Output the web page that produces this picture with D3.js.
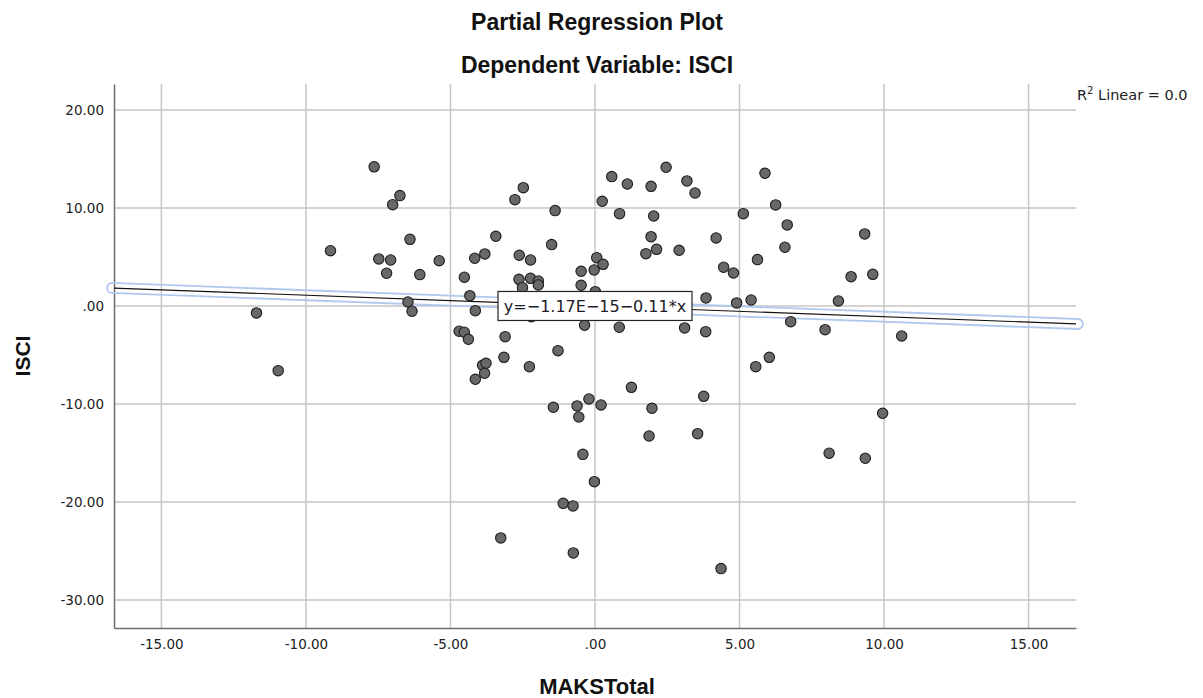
<!DOCTYPE html>
<html>
<head>
<meta charset="utf-8">
<script src="https://cdn.jsdelivr.net/npm/d3@7"></script>
<style>
  html, body { margin: 0; padding: 0; background: #fff; }
  svg { display: block; }
</style>
</head>
<body>
<svg id="chart" width="1203" height="698"></svg>
<script>
// Partial regression residuals: MAKSTotal (x) vs ISCI (y)
const makstotal = [
  -11.71, -10.96, -9.15, -7.64, -7.48, -7.07, -7.21, -6.75, -7.00, -6.40,
  -6.06, -5.39, -6.47, -6.33, -4.52, -4.33, -4.14, -4.16, -3.81, -3.43,
  -4.70, -4.52, -4.38, -3.89, -3.77, -3.82, -4.14, -3.26, -3.11, -3.15,
  -2.27, -1.28, 1.26, -0.21, -0.62, -1.44, 0.21, -0.56, 1.97, 3.76,
  1.87, 3.55, -0.42, -0.02, -1.10, -0.76, -0.75, 4.36, 5.56, 6.03,
  8.10, 9.35, 9.95, 10.61, 9.33, 9.61, -2.77, -2.48, -1.38, -2.62,
  -2.23, -1.50, -2.63, -2.51, -2.23, -1.96, -1.96, -0.48, -0.48, 0.06,
  -0.03, 0.28, 0.01, 0.58, 0.25, 0.85, 1.12, 1.94, 2.03, 1.94,
  1.76, 2.13, 2.46, 3.18, 3.46, 2.91, 4.19, 4.45, 4.79, 5.13,
  5.88, 6.25, 6.65, 6.57, 5.62, 8.86, 8.42, 7.96, 6.77, 5.40,
  4.90, 3.84, 3.83, 3.10, 0.84, -0.36, -2.20
];
const isci = [
  -0.71, -6.60, 5.64, 14.20, 4.80, 4.69, 3.34, 11.26, 10.34, 6.80,
  3.20, 4.62, 0.41, -0.54, 2.93, 1.05, -0.48, 4.87, 5.31, 7.11,
  -2.58, -2.68, -3.40, -6.05, -5.85, -6.87, -7.48, -23.67, -3.13, -5.24,
  -6.19, -4.56, -8.30, -9.49, -10.20, -10.34, -10.10, -11.33, -10.44, -9.22,
  -13.27, -13.03, -15.14, -17.93, -20.14, -20.40, -25.20, -26.80, -6.19, -5.24,
  -15.03, -15.54, -10.95, -3.06, 7.35, 3.23, 10.85, 12.07, 9.73, 5.17,
  4.69, 6.26, 2.72, 1.87, 2.82, 2.55, 2.14, 3.54, 2.11, 4.93,
  3.67, 4.25, 1.46, 13.20, 10.68, 9.42, 12.45, 12.21, 9.18, 7.07,
  5.34, 5.78, 14.15, 12.76, 11.53, 5.68, 6.94, 3.95, 3.37, 9.42,
  13.54, 10.31, 8.27, 5.99, 4.73, 2.99, 0.51, -2.42, -1.60, 0.61,
  0.31, 0.82, -2.62, -2.24, -2.17, -1.97, -1.10
];

// Fitted line: y = intercept + slope * x
const intercept = -1.17e-15;
const slope = -0.11;
const fitLabel = "y=\u22121.17E\u221215\u22120.11*x";
const r2Label = "Linear = 0.0";

const xTicks = [-15, -10, -5, 0, 5, 10, 15];
const yTicks = [20, 10, 0, -10, -20, -30];
const xDomain = [-16.64, 16.64];
const yDomain = [-32.86, 22.65];

const titleText = "Partial Regression Plot";
const subtitleText = "Dependent Variable: ISCI";
const xTitle = "MAKSTotal";
const yTitle = "ISCI";

const plot = { left: 114, right: 1076, top: 84, bottom: 628 };

const svg = d3.select("#chart");

const x = d3.scaleLinear().domain(xDomain).range([plot.left, plot.right]);
const y = d3.scaleLinear().domain(yDomain).range([plot.bottom, plot.top]);

const fmt = v => (v === 0 ? ".00" : v.toFixed(2));
const boldFont = "'Liberation Sans', Arial, sans-serif";

// Titles
svg.append("text")
  .attr("x", 597).attr("y", 30)
  .attr("text-anchor", "middle")
  .style("font-family", boldFont)
  .style("font-weight", "bold").style("font-size", "23px").style("fill", "#111")
  .text(titleText);
svg.append("text")
  .attr("x", 597).attr("y", 73)
  .attr("text-anchor", "middle")
  .style("font-family", boldFont)
  .style("font-weight", "bold").style("font-size", "23px").style("fill", "#111")
  .text(subtitleText);

// Grid
const grid = svg.append("g").attr("class", "grid");
grid.selectAll("line.gy").data(yTicks).join("line")
  .attr("x1", plot.left).attr("x2", plot.right)
  .attr("y1", d => y(d)).attr("y2", d => y(d))
  .attr("stroke", "#c6c6c6").attr("stroke-width", 1.5);
grid.selectAll("line.gx").data(xTicks).join("line")
  .attr("y1", plot.top).attr("y2", plot.bottom)
  .attr("x1", d => x(d)).attr("x2", d => x(d))
  .attr("stroke", "#c6c6c6").attr("stroke-width", 1.5);

// Axes
const xAxis = d3.axisBottom(x).tickValues(xTicks).tickFormat(fmt).tickSize(0).tickPadding(11);
const yAxis = d3.axisLeft(y).tickValues(yTicks).tickFormat(fmt).tickSize(0).tickPadding(10);

const gx = svg.append("g").attr("transform", `translate(0,${plot.bottom})`).call(xAxis);
const gy = svg.append("g").attr("transform", `translate(${plot.left},0)`).call(yAxis);
[gx, gy].forEach(g => {
  g.select(".domain").attr("stroke", "#6e6e6e").attr("stroke-width", 1.5);
  g.selectAll("text")
    .style("font-family", "'DejaVu Sans', sans-serif")
    .style("font-size", "13.5px").style("fill", "#222");
});

svg.append("text")
  .attr("x", 597).attr("y", 694)
  .attr("text-anchor", "middle")
  .style("font-family", boldFont)
  .style("font-weight", "bold").style("font-size", "22px").style("fill", "#111")
  .text(xTitle);
svg.append("text")
  .attr("transform", `translate(30,${(plot.top + plot.bottom) / 2}) rotate(-90)`)
  .attr("text-anchor", "middle")
  .style("font-family", boldFont)
  .style("font-weight", "bold").style("font-size", "21px").style("fill", "#111")
  .text(yTitle);

// Fit line with its selection halo
const fitY = v => intercept + slope * v;
const p1 = [x(xDomain[0]), y(fitY(xDomain[0]))];
const p2 = [x(xDomain[1]), y(fitY(xDomain[1]))];
const dx = p2[0] - p1[0], dy = p2[1] - p1[1];
const len = Math.hypot(dx, dy);
const r = 5;
const nx = -dy / len * r, ny = dx / len * r;
const ux = dx / len * 2, uy = dy / len * 2;
const a1 = [p1[0] - ux, p1[1] - uy], a2 = [p2[0] + ux, p2[1] + uy];
const halo = `M${a1[0] + nx},${a1[1] + ny} L${a2[0] + nx},${a2[1] + ny} ` +
  `A${r},${r} 0 0 0 ${a2[0] - nx},${a2[1] - ny} ` +
  `L${a1[0] - nx},${a1[1] - ny} A${r},${r} 0 0 0 ${a1[0] + nx},${a1[1] + ny} Z`;
svg.append("path").attr("d", halo)
  .attr("fill", "none").attr("stroke", "#b0c8f0").attr("stroke-width", 1.8);
svg.append("line")
  .attr("x1", p1[0]).attr("y1", p1[1]).attr("x2", p2[0]).attr("y2", p2[1])
  .attr("stroke", "#111").attr("stroke-width", 1.2);

// Points
const pts = makstotal.map((v, i) => [v, isci[i]]);
svg.append("g").selectAll("circle").data(pts).join("circle")
  .attr("cx", d => x(d[0])).attr("cy", d => y(d[1]))
  .attr("r", 5.2)
  .attr("fill", "#686868").attr("stroke", "#1e1e1e").attr("stroke-width", 1.1);

// Equation label, centred on the fit at x = 0
const lab = svg.append("g").attr("transform", `translate(${x(0)},${y(fitY(0))})`);
lab.append("rect")
  .attr("x", -97).attr("y", -14.5).attr("width", 194).attr("height", 29)
  .attr("fill", "#fff").attr("stroke", "#222").attr("stroke-width", 1.2);
lab.append("text")
  .attr("x", 0).attr("y", 6)
  .attr("text-anchor", "middle")
  .style("font-family", "'DejaVu Sans', sans-serif")
  .style("font-size", "16px").style("fill", "#1a1a2a")
  .text(fitLabel);

// R squared note
const r2 = svg.append("text")
  .attr("x", 1077).attr("y", 100)
  .style("font-family", "'DejaVu Sans', sans-serif")
  .style("font-size", "14.5px").style("fill", "#222");
r2.append("tspan").text("R");
r2.append("tspan").attr("dy", -6).style("font-size", "10px").text("2");
r2.append("tspan").attr("dy", 6).text(" " + r2Label);
</script>
</body>
</html>
